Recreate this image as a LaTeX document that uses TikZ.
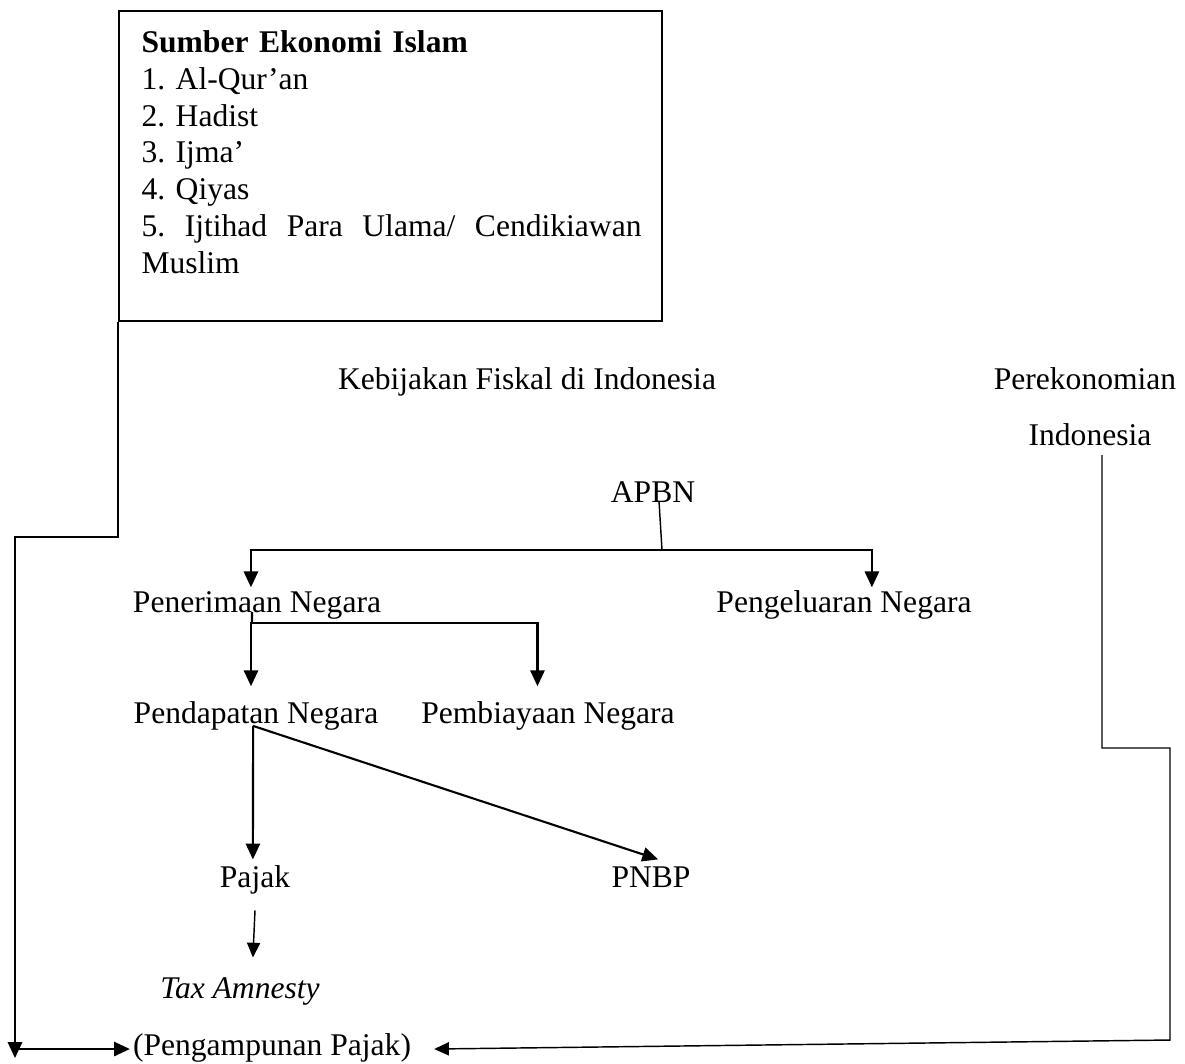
\documentclass[tikz,border=0pt]{standalone}
\usepackage{fontspec}
\setmainfont{Liberation Serif}
\usetikzlibrary{arrows.meta}
\frenchspacing

\tikzset{
    lbl/.style={inner sep=1pt, anchor=base, text height=8.2pt, text depth=2.6pt,
        font=\fontsize{12}{14}\selectfont},
    conn/.style={line width=0.8pt},
    thinconn/.style={line width=0.55pt},
    arr/.style={conn, -{Triangle[length=6pt,width=5.4pt]}},
    thinarr/.style={thinconn, -{Triangle[length=5.6pt,width=5pt]}},
}

\begin{document}
\begin{tikzpicture}[x=0.38pt,y=-0.38pt]
    \useasboundingbox (0,0) rectangle (1185,1063);
    % sumber ekonomi islam
    \node[draw, line width=0.7pt, anchor=north west, minimum width=206.3pt,
        minimum height=117.8pt, inner sep=0pt] (box) at (118,10) {};
    \node[anchor=north west, inner sep=0pt, text width=190pt, align=left,
        font=\fontsize{12}{14}\selectfont] (sumber) at (141,30) {%
        \textbf{Sumber Ekonomi Islam}\\
        1. Al-Qur’an\\
        2. Hadist\\
        3. Ijma’\\
        4. Qiyas\\
        \makebox[190pt]{5.\hfill Ijtihad\hfill Para\hfill Ulama/\hfill Cendikiawan}\\
        Muslim};

    \node[lbl] (kebijakan) at (527,389) {Kebijakan Fiskal di Indonesia};
    \node[lbl] (pereko) at (1085,389) {Perekonomian};
    \node[lbl] (indo) at (1090,445) {Indonesia};
    \node[lbl] (apbn) at (653,502) {APBN};
    \node[lbl] (terima) at (257,612) {Penerimaan Negara};
    \node[lbl] (keluar) at (844,612) {Pengeluaran Negara};
    \node[lbl] (dapat) at (256,723) {Pendapatan Negara};
    \node[lbl] (biaya) at (548,723) {Pembiayaan Negara};
    \node[lbl] (pajak) at (255,887) {Pajak};
    \node[lbl] (pnbp) at (651,887) {PNBP};
    \node[lbl] (tax) at (240,998) {\itshape Tax Amnesty};
    \node[lbl] (ampun) at (272,1055) {(Pengampunan Pajak)};

    % apbn
    \coordinate (s1) at (662,550);
    \draw[thinconn] ([xshift=2.3pt]apbn.base) -- (s1);
    \draw[arr] (s1) -| ([xshift=-2.3pt]terima.north);
    \draw[arr] (s1) -| ([xshift=10.6pt]keluar.north);

    % penerimaan
    \coordinate (s2) at (252,623);
    \draw[conn] ([xshift=-1.9pt]terima.base) -- (s2);
    \draw[arr] (s2) -| ([xshift=-1.9pt,yshift=4.6pt]dapat.north);
    \draw[arr] (s2) -| ([xshift=-4pt,yshift=4.6pt]biaya.north);

    % pendapatan
    \coordinate (s3) at ([xshift=-1.1pt,yshift=-1.1pt]dapat.base);
    \draw[arr] (s3) -- ([xshift=-0.8pt,yshift=1.1pt]pajak.north);
    \draw[arr] (s3) -- ([xshift=2.7pt,yshift=1.1pt]pnbp.north);
    \draw[thinarr] ([yshift=-5.1pt]pajak.south) -- ([xshift=4.9pt,yshift=6pt]tax.north);

    % ke pengampunan pajak
    \coordinate (lcorner) at (15,537);
    \coordinate (lfoot) at (15,1058);
    \coordinate (lstart) at (15,1049);
    \coordinate (rtip) at ([xshift=7.6pt]ampun.east);
    \draw[arr] (box.south west) |- (lcorner) -- (lfoot);
    \draw[arr] (lstart) -- (ampun.west |- lstart);

    \coordinate (r1) at (1102,748);
    \coordinate (r2) at (1170,748);
    \coordinate (r3) at (1170,1040);
    \draw[thinarr] (indo.south -| r1) -- (r1) -- (r2) -- (r3) -- (rtip |- lstart);
\end{tikzpicture}
\end{document}
